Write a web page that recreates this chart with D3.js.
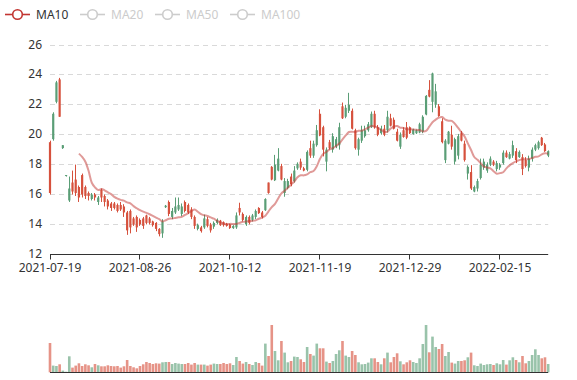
<!DOCTYPE html>
<html><head><meta charset="utf-8">
<script src="https://cdn.jsdelivr.net/npm/d3@7"></script>
<style>body{margin:0;background:#fff}svg{display:block}</style>
</head><body><svg id="c" width="577" height="380"></svg>
<script>
const dates = [
"2021-07-19","2021-07-20","2021-07-21","2021-07-22","2021-07-23","2021-07-26","2021-07-27","2021-07-28","2021-07-29","2021-07-30",
"2021-08-02","2021-08-03","2021-08-04","2021-08-05","2021-08-06","2021-08-09","2021-08-10","2021-08-11","2021-08-12","2021-08-13",
"2021-08-16","2021-08-17","2021-08-18","2021-08-19","2021-08-20","2021-08-23","2021-08-24","2021-08-25","2021-08-26","2021-08-27",
"2021-08-30","2021-08-31","2021-09-01","2021-09-02","2021-09-03","2021-09-06","2021-09-07","2021-09-08","2021-09-09","2021-09-10",
"2021-09-13","2021-09-14","2021-09-15","2021-09-16","2021-09-17","2021-09-18","2021-09-22","2021-09-23","2021-09-24","2021-09-27",
"2021-09-28","2021-09-29","2021-09-30","2021-10-08","2021-10-09","2021-10-11","2021-10-12","2021-10-13","2021-10-14","2021-10-15",
"2021-10-18","2021-10-19","2021-10-20","2021-10-21","2021-10-22","2021-10-25","2021-10-26","2021-10-27","2021-10-28","2021-10-29",
"2021-11-01","2021-11-02","2021-11-03","2021-11-04","2021-11-05","2021-11-08","2021-11-09","2021-11-10","2021-11-11","2021-11-12",
"2021-11-15","2021-11-16","2021-11-17","2021-11-18","2021-11-19","2021-11-22","2021-11-23","2021-11-24","2021-11-25","2021-11-26",
"2021-11-29","2021-11-30","2021-12-01","2021-12-02","2021-12-03","2021-12-06","2021-12-07","2021-12-08","2021-12-09","2021-12-10",
"2021-12-13","2021-12-14","2021-12-15","2021-12-16","2021-12-17","2021-12-20","2021-12-21","2021-12-22","2021-12-23","2021-12-24",
"2021-12-27","2021-12-28","2021-12-29","2021-12-30","2021-12-31","2022-01-04","2022-01-05","2022-01-06","2022-01-07","2022-01-10",
"2022-01-11","2022-01-12","2022-01-13","2022-01-14","2022-01-17","2022-01-18","2022-01-19","2022-01-20","2022-01-21","2022-01-24",
"2022-01-25","2022-01-26","2022-01-27","2022-01-28","2022-02-07","2022-02-08","2022-02-09","2022-02-10","2022-02-11","2022-02-14",
"2022-02-15","2022-02-16","2022-02-17","2022-02-18","2022-02-21","2022-02-22","2022-02-23","2022-02-24","2022-02-25","2022-02-28",
"2022-03-01","2022-03-02","2022-03-03","2022-03-04","2022-03-07","2022-03-08"];

const open = [
16.1,21.4,23.5,21.2,19.3,17.3,16.4,16.2,16.1,15.8,
16.0,15.9,15.9,16.0,15.8,15.8,15.8,15.5,15.2,15.1,
15.1,14.9,15.0,14.8,13.6,13.8,14.0,13.8,14.0,13.9,
14.1,14.1,13.95,13.7,13.35,14.2,15.25,14.7,14.9,15.2,
15.3,15.2,14.9,14.8,14.5,13.9,13.95,13.55,14.4,13.9,
13.6,14.1,14.3,13.95,13.95,13.9,13.75,13.9,14.6,14.8,
14.3,14.5,14.1,14.6,14.9,14.75,14.5,15.7,16.1,17.0,
18.0,18.4,17.0,16.9,16.9,16.7,17.6,18.05,17.8,17.6,
18.85,18.6,19.4,20.3,19.95,19.0,19.0,19.1,19.9,19.7,
20.5,21.1,21.8,22.0,20.4,19.1,19.7,20.3,20.3,20.7,
21.4,20.5,20.0,20.4,20.0,21.2,20.6,20.4,19.6,20.0,
19.85,19.8,20.1,20.35,20.3,20.7,21.2,22.6,22.55,24.1,
22.9,21.25,19.5,19.6,20.2,19.2,19.7,19.9,19.6,18.3,
17.85,16.4,16.5,16.9,18.0,18.2,18.0,18.4,18.0,18.1,
18.0,18.8,18.5,18.7,19.3,18.3,18.85,17.7,17.9,18.4,
19.0,19.3,19.5,19.3,18.9,18.9];
const close = [
19.5,19.7,22.2,23.7,19.1,17.25,15.6,16.8,17.0,16.5,
17.3,16.5,16.1,15.7,16.0,15.5,16.3,15.9,15.6,15.4,
15.4,15.3,15.3,15.2,14.8,14.9,14.4,14.5,14.3,14.4,
14.6,14.4,14.2,14.1,13.7,13.4,15.15,15.5,14.5,14.8,
15.0,14.7,15.5,15.3,15.0,14.5,13.7,13.8,13.8,14.35,
14.0,13.85,14.1,14.25,14.15,14.05,14.0,13.75,13.8,15.1,
14.7,14.0,14.5,14.3,14.5,15.1,14.8,14.95,16.8,17.85,
16.95,17.6,17.9,16.1,16.45,17.2,16.9,17.75,18.2,17.75,
17.65,19.1,18.6,19.3,21.4,20.5,18.2,19.5,19.0,19.2,
19.3,21.9,21.2,21.6,21.6,20.3,19.0,19.6,19.9,20.3,
20.5,21.4,20.5,20.1,20.4,20.3,21.1,21.0,20.2,19.2,
20.3,20.5,20.5,20.05,20.1,20.15,20.2,21.35,23.0,22.2,
22.0,21.9,20.9,18.3,19.4,20.0,18.2,18.6,20.1,19.4,
17.4,17.5,16.2,16.4,17.1,17.8,17.6,18.0,18.2,17.7,
17.8,18.1,18.8,18.4,18.6,18.9,18.5,18.5,18.3,17.8,
18.4,19.0,19.1,19.8,19.35,18.6];
const low = [
16.0,19.6,22.1,21.2,19.05,17.2,15.5,16.0,15.9,15.5,
15.8,15.7,15.6,15.6,15.6,15.3,15.5,15.2,15.0,14.9,
15.0,14.8,14.9,14.5,13.3,13.4,13.9,13.5,13.9,13.7,
14.0,14.0,13.85,13.55,13.2,13.1,15.1,14.55,14.35,14.7,
14.9,14.55,14.8,14.7,14.35,13.7,13.6,13.45,13.7,13.8,
13.45,13.7,14.0,13.9,13.85,13.85,13.7,13.7,13.7,14.6,
14.2,13.9,14.0,14.2,14.35,14.7,14.4,14.9,16.05,16.95,
16.9,17.55,16.95,15.85,16.35,16.55,16.8,17.65,17.65,17.55,
17.55,18.45,18.45,19.2,19.9,18.55,17.55,19.0,18.8,19.1,
19.0,21.05,21.1,21.45,20.35,19.0,18.6,19.45,19.8,20.2,
20.45,20.4,19.9,20.0,19.9,20.15,20.55,20.35,19.55,19.05,
19.8,19.7,20.05,20.0,20.05,20.1,20.1,21.3,22.5,21.5,
21.8,21.2,19.42,18.1,19.35,19.0,18.0,18.35,19.55,18.2,
17.0,16.3,16.15,16.2,17.0,17.65,17.45,17.9,17.9,17.55,
17.65,18.0,18.45,18.35,18.45,18.1,18.45,17.3,17.8,17.55,
18.2,18.9,19.0,19.25,18.85,18.5];
const high = [
19.6,21.5,23.6,23.8,19.3,17.3,17.2,17.6,18.0,16.6,
17.4,16.6,16.2,16.1,16.1,15.9,16.4,16.0,15.7,15.5,
15.5,15.4,15.5,15.35,14.9,15.0,14.5,14.6,14.4,14.5,
14.65,14.5,14.25,14.15,13.75,14.35,15.3,15.6,15.1,15.8,
15.8,15.4,15.6,15.4,15.15,14.6,14.05,13.9,14.65,14.5,
14.1,14.2,14.4,14.3,14.2,14.1,14.05,13.95,14.8,15.45,
14.8,14.6,14.6,14.7,15.0,15.15,14.9,15.75,16.8,17.9,
18.65,19.1,18.05,17.1,17.05,17.4,17.9,18.15,18.4,17.85,
18.95,19.6,19.6,20.65,21.7,20.6,19.15,19.65,20.1,19.85,
20.8,22.15,22.0,22.8,21.75,20.4,19.8,20.6,20.6,20.85,
21.55,21.6,20.65,20.6,20.65,21.6,21.4,21.15,20.4,20.15,
20.5,20.85,20.55,20.4,20.35,20.8,21.3,22.65,23.65,24.15,
23.4,22.05,21.1,19.7,20.25,20.6,19.8,20.05,20.25,19.6,
17.95,17.96,16.6,17.05,18.4,18.4,18.15,18.55,18.3,18.25,
18.1,18.95,18.95,18.85,19.6,19.1,18.95,18.7,18.5,18.6,
19.15,19.4,19.6,19.85,19.45,18.95];
const volume = [
29300,6700,6300,8000,1700,600,16000,4700,6700,9000,
6300,8000,7000,5000,8300,7000,6000,6000,7000,6300,
6000,6300,4700,6000,12300,6300,5000,4000,6300,8000,
10300,9300,8300,9000,8700,10000,10300,10300,8300,9300,
8700,8300,8300,9300,7700,9300,7700,7700,7700,6700,
7700,8700,8300,8300,9300,8300,9000,7300,15300,11300,
8700,10300,8300,7300,10300,9300,6700,28700,16300,47300,
21300,12000,31300,19700,10000,11300,15700,15300,13000,10300,
25300,18300,16700,28700,24000,24000,10700,9300,11300,18300,
22000,31300,16700,15300,21300,17300,10000,8000,8300,9700,
14000,14000,10300,8000,14000,19700,10000,15300,19000,11000,
8000,10000,12000,10300,9300,14000,28300,47300,20000,35700,
25300,23300,28300,16300,20300,9700,8700,11300,11300,12000,
15000,19700,7000,6300,8700,7300,8000,8300,7300,9000,
8000,12300,7700,12000,15000,12300,10000,16300,9000,11300,
17300,23000,17300,14000,15000,8300];

const yTicks = [12, 14, 16, 18, 20, 22, 24, 26];
const legendNames = ["MA10", "MA20", "MA50", "MA100"];
const legendActive = [true, false, false, false];
const maWindow = 10;
const labelEvery = 28;

const upColor = "#d6513d", downColor = "#5a9e76", maColor = "#c23531";
const svg = d3.select("#c");
const font = "'Noto Sans', 'Liberation Sans', sans-serif";

const n = dates.length;
const x = d3.scaleLinear().domain([0, n - 1]).range([50, 548.2]);
const y = d3.scaleLinear().domain([12, 26]).range([254.3, 45]);
const yv = d3.scaleLinear().domain([0, d3.max(volume)]).range([372.3, 325]);
const crisp = v => Math.round(v - 0.5) + 0.5;

// grid lines
svg.append("g").selectAll("line").data(yTicks.slice(1)).join("line")
  .attr("x1", 50).attr("x2", 548.2)
  .attr("y1", d => crisp(y(d))).attr("y2", d => crisp(y(d)))
  .attr("stroke", "#d9d9d9").attr("stroke-dasharray", "5,4");

// y labels
svg.append("g").selectAll("text").data(yTicks).join("text")
  .attr("x", 42).attr("y", d => y(d) - 1).attr("text-anchor", "end")
  .attr("dominant-baseline", "central")
  .attr("font-family", font).attr("font-size", 12).attr("fill", "#333")
  .text(d => d);

// candles
const idx = d3.range(n);
const isUp = i => close[i] > open[i];
const cg = svg.append("g");
cg.selectAll("line").data(idx).join("line")
  .attr("x1", i => crisp(x(i))).attr("x2", i => crisp(x(i)))
  .attr("y1", i => y(high[i])).attr("y2", i => y(low[i]))
  .attr("stroke", i => isUp(i) ? upColor : downColor).attr("stroke-width", 1);
cg.selectAll("rect").data(idx).join("rect")
  .attr("x", i => x(i) - 1.1).attr("width", 2.2)
  .attr("y", i => y(Math.max(open[i], close[i])))
  .attr("height", i => Math.max(1, Math.abs(y(open[i]) - y(close[i]))))
  .attr("fill", i => isUp(i) ? upColor : downColor);

// MA10
const ma = idx.map(i => i < maWindow - 1 ? null : d3.mean(close.slice(i - maWindow + 1, i + 1)));
svg.append("path")
  .datum(idx.filter(i => ma[i] !== null))
  .attr("d", d3.line().x(i => x(i)).y(i => y(ma[i])).curve(d3.curveCatmullRom.alpha(0.5)))
  .attr("fill", "none").attr("stroke", maColor).attr("stroke-opacity", 0.5).attr("stroke-width", 2);

// x axis main
const labelIdx = idx.filter(i => i % labelEvery === 0);
svg.append("line").attr("x1", 50).attr("x2", 548.2).attr("y1", 254.5).attr("y2", 254.5)
  .attr("stroke", "#333");
svg.append("g").selectAll("line").data(labelIdx).join("line")
  .attr("x1", i => crisp(x(i))).attr("x2", i => crisp(x(i)))
  .attr("y1", 254.5).attr("y2", 259.5).attr("stroke", "#333");
svg.append("g").selectAll("text").data(labelIdx).join("text")
  .attr("x", i => x(i)).attr("y", 272).attr("text-anchor", "middle")
  .attr("font-family", font).attr("font-size", 12).attr("fill", "#333")
  .text(i => dates[i]);

// volume
svg.append("g").selectAll("rect").data(idx).join("rect")
  .attr("x", i => x(i) - 1.3).attr("width", 2.6)
  .attr("y", i => yv(volume[i])).attr("height", i => yv(0) - yv(volume[i]))
  .attr("fill", i => isUp(i) ? upColor : downColor).attr("fill-opacity", 0.62);
svg.append("line").attr("x1", 50).attr("x2", 548.2).attr("y1", 372.5).attr("y2", 372.5)
  .attr("stroke", "#333");

// legend
const lg = svg.append("g");
legendNames.forEach((name, k) => {
  const x0 = 5 + 75 * k, c = legendActive[k] ? maColor : "#ccc";
  const g = lg.append("g");
  g.append("line").attr("x1", x0).attr("x2", x0 + 25).attr("y1", 14.5).attr("y2", 14.5)
    .attr("stroke", c).attr("stroke-width", 1.6);
  g.append("circle").attr("cx", x0 + 12.5).attr("cy", 14.5).attr("r", 4.8)
    .attr("fill", "#fff").attr("stroke", c).attr("stroke-width", 1.6);
  g.append("text").attr("x", x0 + 31).attr("y", 14.5).attr("dominant-baseline", "central")
    .attr("font-family", font).attr("font-size", 12).attr("fill", legendActive[k] ? "#333" : "#ccc")
    .text(name);
});
</script></body></html>
